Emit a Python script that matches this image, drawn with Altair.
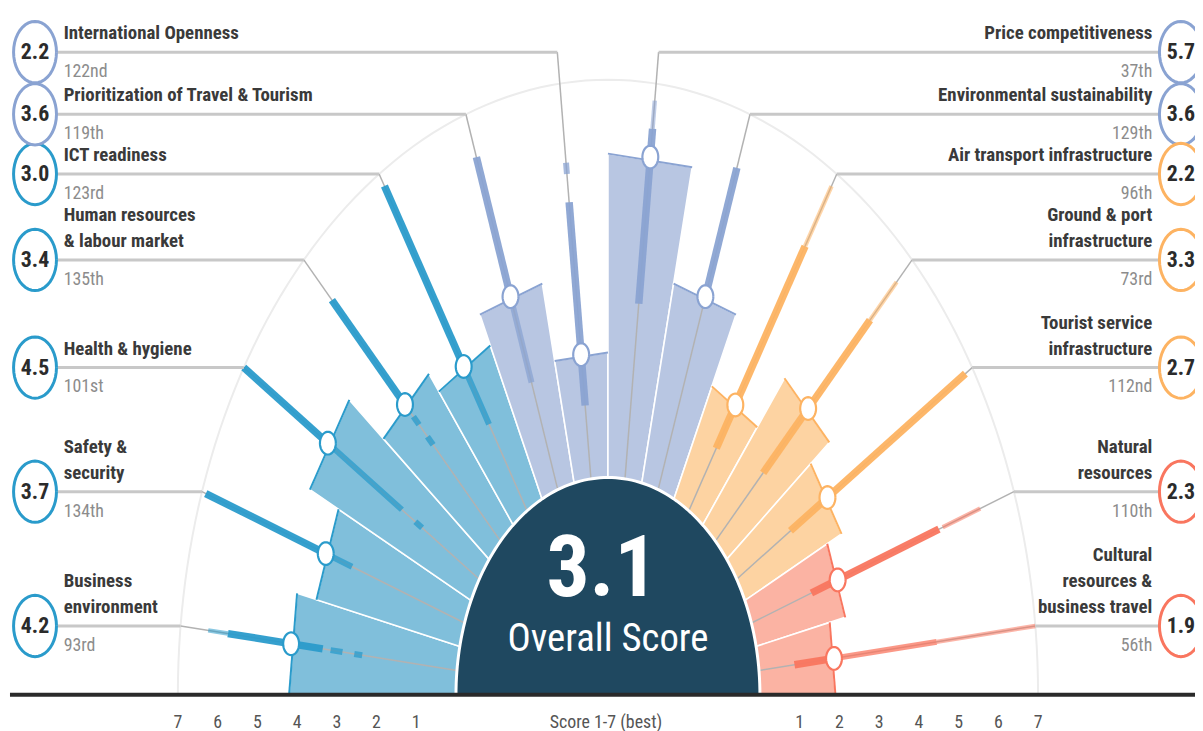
import numpy as np
import pandas as pd
import altair as alt

# ---------------- data ----------------
pillars = ["Business environment", "Safety & security", "Health & hygiene",
           "Human resources & labour market", "ICT readiness",
           "Prioritization of Travel & Tourism", "International Openness",
           "Price competitiveness", "Environmental sustainability",
           "Air transport infrastructure", "Ground & port infrastructure",
           "Tourist service infrastructure", "Natural resources",
           "Cultural resources & business travel"]
name_lines = [["Business", "environment"], ["Safety &", "security"], ["Health & hygiene"],
              ["Human resources", "& labour market"], ["ICT readiness"],
              ["Prioritization of Travel & Tourism"], ["International Openness"],
              ["Price competitiveness"], ["Environmental sustainability"],
              ["Air transport infrastructure"], ["Ground & port", "infrastructure"],
              ["Tourist service", "infrastructure"], ["Natural", "resources"],
              ["Cultural", "resources &", "business travel"]]
scores = [4.2, 3.7, 4.5, 3.4, 3.0, 3.6, 2.2, 5.7, 3.6, 2.2, 3.3, 2.7, 2.3, 1.9]
ranks = ["93rd", "134th", "101st", "135th", "123rd", "119th", "122nd",
         "37th", "129th", "96th", "73rd", "112nd", "110th", "56th"]
groups = ["A"] * 5 + ["B"] * 4 + ["C"] * 3 + ["D"] * 2
overall_score = 3.1
tick_values = [1, 2, 3, 4, 5, 6, 7]
axis_title = "Score 1-7 (best)"

# distribution of all countries along each pillar's spoke
dist_pillar = [0, 0, 0, 0, 1, 1, 2, 2, 2, 3, 3, 3, 4, 4, 5, 5, 6, 6, 7, 7, 8,
               9, 9, 9, 10, 10, 10, 11, 11, 12, 12, 12, 13, 13, 13]
dist_lo = [3.4, 5.8, 2.9, 2.4, 3.7, 3.0, 4.5, 2.3, 1.7, 3.4, 2.9, 2.4, 3.0, 1.8,
           3.6, 2.0, 1.3, 5.4, 3.1, 6.2, 3.6, 5.5, 2.2, 1.3, 5.5, 3.3, 1.7, 2.7, 1.6,
           5.1, 2.3, 1.6, 4.5, 1.9, 0.9]
dist_hi = [5.8, 6.3, 3.2, 2.6, 6.9, 3.7, 7.0, 4.5, 1.9, 6.0, 3.1, 2.6, 6.75, 3.0,
           6.2, 3.6, 4.9, 5.6, 6.2, 6.7, 6.0, 6.75, 5.5, 2.2, 6.45, 5.5, 3.3, 6.8, 2.7,
           6.1, 5.0, 2.3, 7.0, 4.5, 1.9]
dist_level = [3, 1, 2, 2, 3, 2, 3, 2, 2, 3, 2, 2, 3, 2, 3, 2, 3, 2, 3, 1, 3,
              1, 3, 3, 1, 3, 3, 3, 3, 1, 3, 3, 1, 2, 3]

# ---------------- geometry / style ----------------
N = len(scores)
STEP = np.pi / N
R0 = 3.825            # radius of score 0 (edge of the central disc), in score units
R7 = 7 + R0
PX_X, PX_Y = 40.0, 57.2
W, H = 1195, 723
CX, CY = 604.0, 689.0
XDOM = [-CX / PX_X, (W - CX) / PX_X]
YDOM = [(CY - H) / PX_Y, CY / PX_Y]
TOP_Y = (CY - 42) / PX_Y
LBL_X = 14.42
LBL_R = 0.54
FONT = "Liberation Sans Narrow, Arial Narrow, Roboto Condensed, Liberation Sans, sans-serif"

grp_dom = ["A", "B", "C", "D"]
bar_cols = ["#80bfdb", "#b8c6e2", "#fdd3a2", "#fbb3a3"]
dark_cols = ["#2a9bcb", "#8aa3d2", "#fdb362", "#f9765f"]

xs = alt.Scale(domain=XDOM, nice=False, zero=False)
ys = alt.Scale(domain=YDOM, nice=False, zero=False)
X = alt.X("x:Q", scale=xs, axis=None)
Y = alt.Y("y:Q", scale=ys, axis=None)
fill_scale = alt.Scale(domain=grp_dom, range=bar_cols)
dark_scale = alt.Scale(domain=grp_dom, range=dark_cols)


def mid_angle(i):
    return np.pi - (i + 0.5) * STEP


# bars (chord-topped wedges)
rows = []
for i, (s, g) in enumerate(zip(scores, groups)):
    a1, a2 = np.pi - i * STEP, np.pi - (i + 1) * STEP
    for k, (rr, aa) in enumerate([(R0 * 0.9, a1), (s + R0, a1), (s + R0, a2), (R0 * 0.9, a2)]):
        rows.append(dict(pid=i, k=k, grp=g, x=rr * np.cos(aa), y=rr * np.sin(aa)))
bars = pd.DataFrame(rows)
tops = bars[bars.k.isin([1, 2])]

# spokes and connectors
sp = []
for i, g in enumerate(groups):
    a = mid_angle(i)
    ly = TOP_Y if i in (6, 7) else R7 * np.sin(a)
    rc = ly / np.sin(a)
    side = -1 if i <= 6 else 1
    sp.append(dict(pid=i, grp=g, x=R0 * np.cos(a), y=R0 * np.sin(a),
                   x2=rc * np.cos(a), y2=ly, lx=side * (LBL_X - LBL_R), ly=ly,
                   side=side))
spokes = pd.DataFrame(sp)

seg = []
for p, lo, hi, lv in zip(dist_pillar, dist_lo, dist_hi, dist_level):
    a = mid_angle(p)
    seg.append(dict(grp=groups[p], lvl=lv,
                    x=(lo + R0) * np.cos(a), y=(lo + R0) * np.sin(a),
                    x2=(hi + R0) * np.cos(a), y2=(hi + R0) * np.sin(a)))
segs = pd.DataFrame(seg)

# ellipses (circles in data space -> stretched by scales)
t = np.linspace(0, 2 * np.pi, 41)
dots, lbl_circ = [], []
for i, (s, g) in enumerate(zip(scores, groups)):
    a = mid_angle(i)
    cx, cy = (s + R0) * np.cos(a), (s + R0) * np.sin(a)
    for k, tt in enumerate(t):
        dots.append(dict(pid=i, k=k, grp=g, x=cx + 0.2 * np.cos(tt), y=cy + 0.2 * np.sin(tt)))
    sd = spokes.iloc[i]
    lcx = sd.side * LBL_X
    for k, tt in enumerate(t):
        lbl_circ.append(dict(pid=i, k=k, grp=g, x=lcx + LBL_R * np.cos(tt),
                             y=sd.ly + LBL_R * np.sin(tt)))
dots = pd.DataFrame(dots)
lbl_circ = pd.DataFrame(lbl_circ)

# central disc and grid arc
ang = np.linspace(0, np.pi, 121)
disc = pd.DataFrame(dict(k=range(len(ang)), x=R0 * np.cos(ang), y=R0 * np.sin(ang)))
arc7 = pd.DataFrame(dict(k=range(len(ang)), x=R7 * np.cos(ang), y=R7 * np.sin(ang)))

# texts
names, rk, sc_txt = [], [], []
for i in range(N):
    sd = spokes.iloc[i]
    lines = name_lines[i]
    n = len(lines)
    for j, ln in enumerate(lines):
        off = (19 + 26 * (n - 1 - j)) / PX_Y
        names.append(dict(side=sd.side, x=sd.side * 13.7, y=sd.ly + off, text=ln))
    rk.append(dict(side=sd.side, x=sd.side * 13.7, y=sd.ly - 20 / PX_Y, text=ranks[i]))
    sc_txt.append(dict(x=sd.side * LBL_X, y=sd.ly, text=f"{scores[i]:.1f}"))
names = pd.DataFrame(names)
rk = pd.DataFrame(rk)
sc_txt = pd.DataFrame(sc_txt)

ticks = pd.DataFrame(
    [dict(x=-(v + R0), y=-28 / PX_Y, text=str(v)) for v in tick_values]
    + [dict(x=(v + R0), y=-28 / PX_Y, text=str(v)) for v in tick_values]
    + [dict(x=-0.05, y=-28 / PX_Y, text=axis_title)])
base_line = pd.DataFrame(dict(x=[XDOM[0] + 0.05], x2=[XDOM[1]], y=[0.0]))
center_txt = pd.DataFrame([dict(x=-0.15, y=2.2, text=f"{overall_score:.1f}")])
center_sub = pd.DataFrame([dict(x=0.0, y=0.98, text="Overall Score")])

# ---------------- layers ----------------
L = []
L.append(alt.Chart(arc7).mark_line(stroke="#ececec", strokeWidth=2).encode(
    x=X, y=Y, order="k:Q"))
L.append(alt.Chart(bars).mark_line(stroke="white", strokeWidth=1.6, interpolate="linear-closed").encode(
    x=X, y=Y, order="k:Q", detail="pid:N",
    fill=alt.Fill("grp:N", scale=fill_scale, legend=None)))
L.append(alt.Chart(tops).mark_line(strokeWidth=2).encode(
    x=X, y=Y, order="k:Q", detail="pid:N",
    stroke=alt.Stroke("grp:N", scale=dark_scale, legend=None)))
L.append(alt.Chart(spokes).mark_rule(stroke="#b2b2b2", strokeWidth=1.5).encode(
    x=X, y=Y, x2="x2:Q", y2="y2:Q"))
L.append(alt.Chart(segs).mark_rule(strokeCap="butt").encode(
    x=X, y=Y, x2="x2:Q", y2="y2:Q",
    stroke=alt.Stroke("grp:N", scale=dark_scale, legend=None),
    strokeWidth=alt.StrokeWidth("lvl:Q", scale=alt.Scale(domain=[1, 3], range=[4.5, 7.5]), legend=None),
    opacity=alt.Opacity("lvl:Q", scale=alt.Scale(domain=[1, 3], range=[0.55, 0.95]), legend=None)))
L.append(alt.Chart(spokes).mark_rule(stroke="#c8c8c8", strokeWidth=3).encode(
    x=alt.X("x2:Q", scale=xs, axis=None), y=alt.Y("ly:Q", scale=ys, axis=None), x2="lx:Q"))
L.append(alt.Chart(disc).mark_line(stroke="white", strokeWidth=3, fill="#1f4860",
                                   interpolate="linear-closed").encode(x=X, y=Y, order="k:Q"))
L.append(alt.Chart(dots).mark_line(fill="white", strokeWidth=2.2).encode(
    x=X, y=Y, order="k:Q", detail="pid:N",
    stroke=alt.Stroke("grp:N", scale=dark_scale, legend=None)))
L.append(alt.Chart(lbl_circ).mark_line(fill="white", strokeWidth=3).encode(
    x=X, y=Y, order="k:Q", detail="pid:N",
    stroke=alt.Stroke("grp:N", scale=dark_scale, legend=None)))
L.append(alt.Chart(sc_txt).mark_text(font=FONT, fontSize=22, fontWeight="bold", color="#2b2b2b",
                                     baseline="middle", align="center").encode(x=X, y=Y, text="text:N"))
L.append(alt.Chart(names[names.side < 0]).mark_text(font=FONT, fontSize=19, fontWeight="bold",
                                                    color="#3a3a3a", baseline="middle", align="left").encode(
    x=X, y=Y, text="text:N"))
L.append(alt.Chart(names[names.side > 0]).mark_text(font=FONT, fontSize=19, fontWeight="bold",
                                                    color="#3a3a3a", baseline="middle", align="right").encode(
    x=X, y=Y, text="text:N"))
L.append(alt.Chart(rk[rk.side < 0]).mark_text(font=FONT, fontSize=18, color="#8c8c8c",
                                              baseline="middle", align="left").encode(x=X, y=Y, text="text:N"))
L.append(alt.Chart(rk[rk.side > 0]).mark_text(font=FONT, fontSize=18, color="#8c8c8c",
                                              baseline="middle", align="right").encode(x=X, y=Y, text="text:N"))
L.append(alt.Chart(base_line).mark_rule(stroke="#2a2a2a", strokeWidth=4).encode(x=X, x2="x2:Q", y=Y))
L.append(alt.Chart(ticks).mark_text(font=FONT, fontSize=18, color="#555555", baseline="middle",
                                    align="center").encode(x=X, y=Y, text="text:N"))
L.append(alt.Chart(center_txt).mark_text(font=FONT, fontSize=86, fontWeight="bold", color="white",
                                         baseline="middle", align="center").encode(x=X, y=Y, text="text:N"))
L.append(alt.Chart(center_sub).mark_text(font=FONT, fontSize=39, color="white", baseline="middle",
                                         align="center").encode(x=X, y=Y, text="text:N"))

chart = alt.layer(*L).properties(
    width=W, height=H, padding=0, autosize=alt.AutoSizeParams(type="none")
).configure_view(stroke=None)

chart.save("out.html", embed_options={"renderer": "svg", "actions": False})
